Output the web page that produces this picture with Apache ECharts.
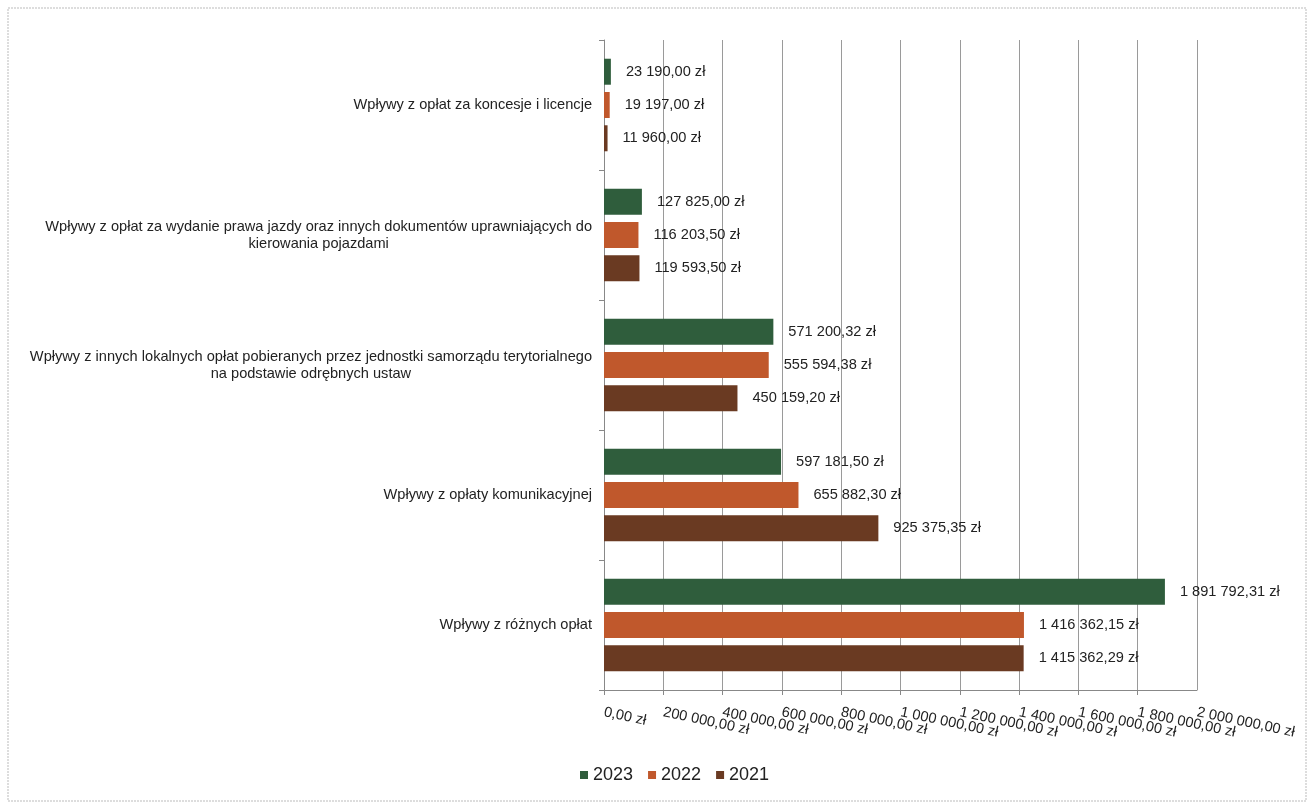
<!DOCTYPE html>
<html>
<head>
<meta charset="utf-8">
<script src="https://cdn.jsdelivr.net/npm/echarts@6/dist/echarts.min.js"></script>
<style>
html,body{margin:0;padding:0;background:#fff;}
#c{width:1314px;height:809px;}
</style>
</head>
<body>
<div id="c"></div>
<script>
const categories = [
  "Wpływy z opłat za koncesje i licencje",
  "Wpływy z opłat za wydanie prawa jazdy oraz innych dokumentów uprawniających do\nkierowania pojazdami",
  "Wpływy z innych lokalnych opłat pobieranych przez jednostki samorządu terytorialnego\nna podstawie odrębnych ustaw",
  "Wpływy z opłaty komunikacyjnej",
  "Wpływy z różnych opłat"
];
const seriesNames = ["2023", "2022", "2021"];
const values2023 = [23190.00, 127825.00, 571200.32, 597181.50, 1891792.31];
const values2022 = [19197.00, 116203.50, 555594.38, 655882.30, 1416362.15];
const values2021 = [11960.00, 119593.50, 450159.20, 925375.35, 1415362.29];
const xMin = 0, xMax = 2000000, xInterval = 200000;

const colors = ["#2f5d3c", "#c0582c", "#6a3a22"];
const FONT = "Arial, 'Liberation Sans', sans-serif";
const FS = 14.6;

function fmtZl(v) {
  const parts = Number(v).toFixed(2).split(".");
  const intPart = parts[0].replace(/\B(?=(\d{3})+(?!\d))/g, " ");
  return intPart + "," + parts[1] + " zł";
}

const chart = echarts.init(document.getElementById("c"));
const dataSets = [values2023, values2022, values2021];

const xLabelBase = {
  rotate: -12,
  margin: 22,
  hideOverlap: false,
  color: "#222",
  fontSize: FS,
  fontFamily: FONT
};

chart.setOption({
  backgroundColor: "#fff",
  animation: false,
  color: colors,
  graphic: [{
    type: "rect",
    shape: {x: 8, y: 8, width: 1298, height: 793},
    style: {fill: "none", stroke: "#bbb", lineWidth: 1, lineDash: [2, 1]},
    silent: true
  }],
  grid: {left: 604, right: 117, top: 40, bottom: 119, containLabel: false},
  legend: {
    data: seriesNames,
    bottom: 20,
    left: 575,
    icon: "rect",
    itemWidth: 8,
    itemHeight: 8,
    itemGap: 15,
    textStyle: {fontSize: 18, color: "#222", fontFamily: FONT}
  },
  xAxis: [{
    type: "value",
    min: xMin,
    max: xMax,
    interval: xInterval,
    axisLine: {show: true, lineStyle: {color: "#888"}},
    axisTick: {show: true, length: 5, lineStyle: {color: "#888"}},
    splitLine: {show: true, lineStyle: {color: "#9a9a9a", width: 1}},
    axisLabel: Object.assign({}, xLabelBase, {
      showMinLabel: true,
      showMaxLabel: false,
      formatter: v => fmtZl(v)
    })
  }, {
    type: "value",
    position: "bottom",
    min: xMin,
    max: xMax,
    interval: xInterval,
    axisLine: {show: false},
    axisTick: {show: false},
    splitLine: {show: false},
    axisLabel: Object.assign({}, xLabelBase, {
      showMinLabel: false,
      showMaxLabel: true,
      formatter: v => (v === xMax ? fmtZl(v) : "")
    })
  }],
  yAxis: {
    type: "category",
    inverse: true,
    data: categories,
    axisLine: {show: true, lineStyle: {color: "#888"}},
    axisTick: {show: true, length: 5, lineStyle: {color: "#888"}},
    splitLine: {show: false},
    axisLabel: {
      margin: 12,
      align: "right",
      color: "#222",
      fontSize: FS,
      fontFamily: FONT,
      lineHeight: 17,
      formatter: function (v) {
        const lines = v.split("\n");
        if (lines.length === 1) return v;
        return lines.map(l => "{c|" + l + "}").join("\n");
      },
      rich: {
        c: {align: "center", fontSize: FS, fontFamily: FONT, color: "#222", lineHeight: 17}
      }
    }
  },
  series: seriesNames.map((name, i) => ({
    name: name,
    type: "bar",
    xAxisIndex: 0,
    data: dataSets[i],
    barWidth: 26,
    barGap: "28%",
    barCategoryGap: "29%",
    itemStyle: {color: colors[i]},
    label: {
      show: true,
      position: "right",
      distance: 15,
      color: "#222",
      fontSize: FS,
      fontFamily: FONT,
      formatter: p => fmtZl(p.value)
    }
  }))
});
</script>
</body>
</html>
